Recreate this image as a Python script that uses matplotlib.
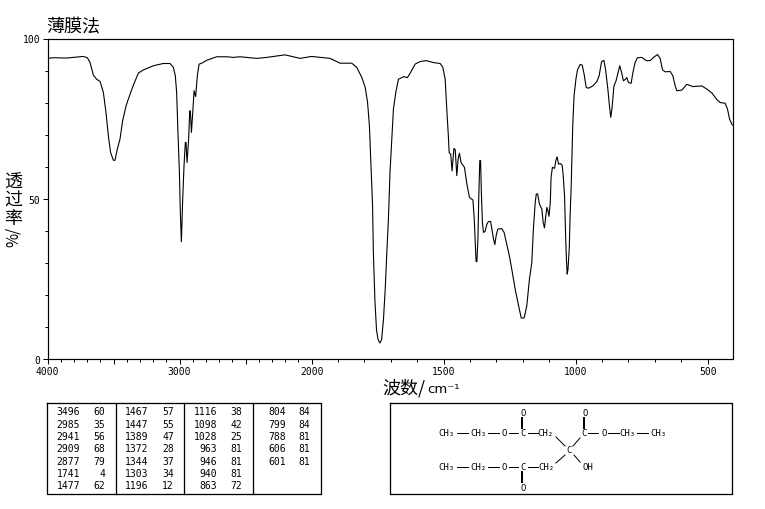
import numpy as np
import matplotlib
matplotlib.use('Agg')
import matplotlib.pyplot as plt

# spectrum: wavenumber (cm-1) and transmittance (%)
wavenumber = [4000, 3956, 3855, 3830, 3729, 3698, 3678, 3653, 3628, 3602, 3577, 3557, 3539, 3522, 3501, 3489,
              3471, 3451, 3431, 3405, 3375, 3350, 3312, 3274, 3198, 3123, 3072, 3047, 3032, 3022, 3012, 3001,
              2994, 2986, 2976, 2966, 2956, 2951, 2943, 2931, 2923, 2918, 2910, 2900, 2890, 2878, 2865, 2852,
              2832, 2794, 2719, 2643, 2592, 2542, 2416, 2340, 2201, 2087, 2000, 1955, 1930, 1892, 1848, 1829,
              1810, 1797, 1788, 1781, 1775, 1769, 1766, 1760, 1754, 1748, 1741, 1735, 1728, 1721, 1715, 1709,
              1703, 1696, 1690, 1681, 1671, 1665, 1652, 1637, 1625, 1608, 1589, 1566, 1539, 1513, 1503, 1494,
              1488, 1482, 1479, 1473, 1468, 1461, 1456, 1450, 1445, 1440, 1434, 1421, 1412, 1402, 1389, 1384,
              1381, 1377, 1374, 1370, 1367, 1363, 1360, 1357, 1353, 1349, 1343, 1336, 1330, 1322, 1317, 1311,
              1306, 1301, 1295, 1280, 1271, 1261, 1251, 1242, 1229, 1216, 1206, 1195, 1185, 1175, 1166, 1160,
              1153, 1149, 1144, 1137, 1128, 1123, 1118, 1113, 1109, 1105, 1101, 1096, 1093, 1088, 1080, 1075,
              1070, 1065, 1059, 1051, 1047, 1042, 1038, 1035, 1032, 1029, 1024, 1021, 1017, 1011, 1006, 999,
              993, 983, 975, 968, 960, 951, 935, 920, 911, 902, 893, 886, 878, 872, 867, 862,
              855, 847, 838, 833, 826, 819, 811, 806, 800, 790, 783, 775, 766, 749, 733, 718,
              705, 690, 680, 671, 661, 642, 632, 623, 617, 598, 579, 556, 522, 503, 484, 465,
              452, 434, 425, 417, 407]
transmittance = [93.8, 94.0, 93.9, 94.0, 94.4, 94.0, 92.5, 88.6, 87.3, 86.6, 83.2, 76.9, 69.6, 64.4, 62.0, 62.0,
                 65.5, 68.6, 74.3, 79.0, 82.6, 85.4, 89.2, 90.2, 91.5, 92.2, 92.2, 91.0, 88.4, 83.2, 70.7, 58.2,
                 45.7, 36.6, 49.9, 60.3, 67.6, 67.6, 61.3, 68.6, 77.4, 77.4, 70.7, 76.9, 83.7, 81.9, 88.4, 92.0,
                 92.3, 93.2, 94.3, 94.3, 94.1, 94.3, 93.8, 94.1, 94.9, 93.8, 94.4, 94.0, 93.8, 92.3, 92.3, 91.0,
                 87.9, 84.8, 80.1, 72.8, 60.3, 47.8, 33.3, 18.0, 9.0, 6.0, 5.0, 6.0, 12.0, 22.0, 33.3, 43.7,
                 58.2, 68.6, 78.0, 83.2, 87.3, 87.5, 88.1, 87.8, 89.4, 92.0, 92.8, 93.1, 92.5, 92.2, 91.0, 87.3,
                 78.0, 69.6, 64.4, 63.9, 58.7, 65.7, 65.3, 57.2, 62.4, 64.2, 61.3, 59.8, 54.6, 50.4, 49.6, 43.7,
                 37.9, 30.4, 30.4, 37.4, 49.9, 61.9, 61.9, 52.0, 42.6, 39.5, 39.8, 42.1, 42.9, 42.9, 40.5, 37.4,
                 35.7, 38.5, 40.5, 40.7, 39.5, 35.9, 32.2, 28.1, 21.8, 16.6, 12.8, 12.8, 16.6, 24.9, 30.1, 40.5,
                 48.9, 51.5, 51.5, 48.3, 46.8, 42.6, 40.9, 44.7, 47.3, 46.3, 44.5, 48.9, 56.7, 59.8, 59.5, 61.9,
                 63.1, 60.8, 61.0, 60.5, 57.2, 50.9, 38.5, 31.2, 26.5, 28.0, 34.8, 44.7, 53.5, 72.8, 82.1, 87.3,
                 90.2, 91.9, 91.7, 88.9, 84.7, 84.5, 85.2, 86.5, 88.4, 92.7, 93.2, 89.9, 84.2, 79.0, 75.4, 78.5,
                 85.2, 86.8, 89.9, 91.5, 89.4, 86.8, 87.3, 87.8, 86.3, 86.0, 89.4, 92.5, 94.0, 94.1, 93.1, 93.1,
                 94.1, 95.0, 93.8, 90.2, 89.6, 89.7, 88.4, 85.2, 83.7, 83.9, 85.7, 85.0, 85.2, 84.2, 83.0, 80.9,
                 80.0, 79.8, 78.0, 74.8, 73.0]

x_major = [4000, 3500, 3000, 2500, 2000, 1500, 1000, 500]
x_labels = ['4000', '', '3000', '', '2000', '1500', '1000', '500']
y_major = [0, 50, 100]
y_labels = ['0', '50', '100']

# peak table columns
peak_wn = [[3496, 2985, 2941, 2909, 2877, 1741, 1477],
           [1467, 1447, 1389, 1372, 1344, 1303, 1196],
           [1116, 1098, 1028, 963, 946, 940, 863],
           [804, 799, 788, 606, 601]]
peak_t = [[60, 35, 56, 68, 79, 4, 62],
          [57, 55, 47, 28, 37, 34, 12],
          [38, 42, 25, 81, 81, 81, 72],
          [84, 84, 81, 81, 81]]

cjk = ['Noto Sans CJK SC', 'DejaVu Sans']
mono = 'DejaVu Sans Mono'
PX = 0.72  # one pixel in points


# the axis is compressed by two above 2000 cm-1
def forward(x):
    x = np.asarray(x, dtype=float)
    return np.where(x >= 2000, 4000 - x, 2000 + (2000 - x) * 2)


def inverse(p):
    p = np.asarray(p, dtype=float)
    return np.where(p <= 2000, 4000 - p, 2000 - (p - 2000) / 2)


W, H = 765, 510
fig = plt.figure(figsize=(W / 100, H / 100), dpi=100)
ax = fig.add_axes([47.5 / W, 1 - 360 / H, (732.5 - 47.5) / W, (360 - 39.5) / H])

ax.plot(wavenumber, transmittance, color='black', lw=0.8, antialiased=True)
ax.set_xscale('function', functions=(forward, inverse))

ax.set_xticks(x_major)
ax.set_xticklabels(x_labels, fontfamily=mono, fontsize=7)
ax.set_xticks(np.arange(500, 4000, 100), minor=True)
ax.set_yticks(y_major)
ax.set_yticklabels(y_labels, fontfamily=mono, fontsize=7)
ax.set_yticks(np.arange(0, 101, 10), minor=True)
ax.tick_params(axis='both', which='major', length=3.6, width=PX, pad=1.5)
ax.tick_params(axis='both', which='minor', length=2.2, width=PX)
for s in ax.spines.values():
    s.set_linewidth(PX * 1.2)

# forward() already runs backwards, so the limits stay ascending here
ax.set_xlim(406, 4000)
ax.set_ylim(0, 100)

# overlay in pixel coordinates for everything outside the plot
ov = fig.add_axes([0, 0, 1, 1], facecolor='none')
ov.set_xlim(0, W)
ov.set_ylim(H, 0)
ov.axis('off')

ov.text(46, 27.5, '薄膜法', family=cjk, fontsize=13, va='center', ha='left')
ov.text(382, 389, '波数', family=cjk, fontsize=13, va='center', ha='left')
ov.text(418, 389, '/', family=cjk, fontsize=13, va='center', ha='left')
ov.text(427, 390, 'cm⁻¹', family='DejaVu Sans', fontsize=9.5, va='center', ha='left')
for ch, y in zip('透过率', [183, 201, 219]):
    ov.text(13, y, ch, family=cjk, fontsize=13, va='center', ha='center')
ov.text(13, 237, '%/', family=cjk, fontsize=11, va='center', ha='center', rotation=90)

# peak table
ov.plot([47.5, 321.5, 321.5, 47.5, 47.5], [403.5, 403.5, 495, 495, 403.5], color='black', lw=PX * 1.3)
for x in [116.5, 184.5, 253.5]:
    ov.plot([x, x], [403.5, 495], color='black', lw=PX * 1.3)
wn_right = [80, 148.5, 217.5, 286]
t_right = [105, 174, 242.5, 310]
row_y = [412.3, 424.7, 437, 449.3, 461.7, 474, 486.3]
for c in range(4):
    for r in range(len(peak_wn[c])):
        ov.text(wn_right[c], row_y[r], str(peak_wn[c][r]), family=mono, fontsize=7, ha='right', va='center')
        ov.text(t_right[c], row_y[r], str(peak_t[c][r]), family=mono, fontsize=7, ha='right', va='center')

# structure box
ov.plot([390.5, 732, 732, 390.5, 390.5], [403.5, 403.5, 495, 495, 403.5], color='black', lw=PX * 1.3)
atoms = [('CH₃', 446.7, 434), ('CH₃', 478, 434), ('O', 504, 434), ('C', 522.7, 434), ('CH₂', 545.7, 434),
         ('C', 584.5, 434), ('O', 603.7, 434), ('CH₃', 627.3, 434), ('CH₃', 658.3, 434),
         ('O', 522.7, 413.3), ('O', 585, 413.3), ('C', 569.3, 450.7), ('OH', 587.5, 467.7),
         ('CH₃', 446.7, 467.7), ('CH₂', 478, 467.7), ('O', 504, 467.7), ('C', 522.7, 467.7),
         ('CH₂', 546, 467.7), ('O', 523.3, 488.3)]
for label, x, y in atoms:
    ov.text(x, y, label, family=mono, fontsize=6.5, ha='center', va='center')
bonds = [(457, 434, 468, 434), (488, 434, 499, 434), (509, 434, 518, 434), (528, 434, 538, 434),
         (588, 434, 598, 434), (608, 434, 619, 434), (637, 434, 648, 434),
         (457, 467.7, 468, 467.7), (488, 467.7, 499, 467.7), (509, 467.7, 518, 467.7), (528, 467.7, 538, 467.7),
         (556, 438, 565, 447), (580, 439, 573, 447), (556, 464, 565, 456), (574, 456, 580, 463)]
for x0, y0, x1, y1 in bonds:
    ov.plot([x0, x1], [y0, y1], color='black', lw=PX)
for x0, y0, x1, y1 in [(522, 418.5, 522, 429), (584, 418.5, 584, 429), (522, 472.5, 522, 483)]:
    ov.plot([x0, x1], [y0, y1], color='black', lw=PX * 2)

fig.savefig('out.png', dpi=100)
